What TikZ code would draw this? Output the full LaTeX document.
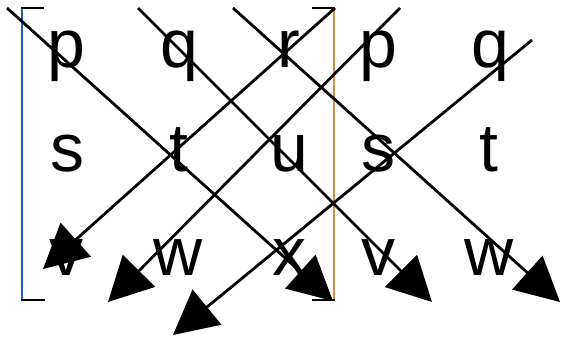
\documentclass[tikz,border=0pt]{standalone}
\usepackage{fontspec}
\setmainfont{Liberation Sans}
\usetikzlibrary{arrows.meta}
\definecolor{lbr}{rgb}{0.12,0.36,0.72}
\definecolor{rbr}{rgb}{0.82,0.56,0.26}
\tikzset{
  ent/.style={anchor=base, inner sep=0pt, font=\fontsize{68}{68}\selectfont},
  diag/.style={line width=2.8pt, draw=black, -{Triangle[length=44pt,width=45pt]}},
  serif/.style={line width=2.8pt, draw=black},
}
\begin{document}
\begin{tikzpicture}[x=1pt,y=-1pt]
\useasboundingbox (0,0) rectangle (561,338);
% entries
\node[ent] (a11) at (66.5,67) {p};
\node[ent] (a12) at (179,67) {q};
\node[ent] (a13) at (289,67) {r};
\node[ent] (a14) at (378,67) {p};
\node[ent] (a15) at (490,67) {q};
\node[ent] (a21) at (67,171) {s};
\node[ent] (a22) at (179,171) {t};
\node[ent] (a23) at (289,171) {u};
\node[ent] (a24) at (378,171) {s};
\node[ent] (a25) at (489,171) {t};
\node[ent] (a31) at (66.5,275) {v};
\node[ent] (a32) at (178,275) {w};
\node[ent] (a33) at (289,275) {x};
\node[ent] (a34) at (378,275) {v};
\node[ent] (a35) at (489,275) {w};
% brackets
\coordinate (lbt) at (22,8);
\coordinate (lbb) at (22,300);
\coordinate (lst) at (44,8);
\coordinate (lsb) at (45,300);
\coordinate (rbt) at (334,8);
\coordinate (rbb) at (334,300);
\coordinate (rst) at (312,8);
\coordinate (rsb) at (312,300);
\draw[line width=2.8pt, draw=lbr] (lbt) -- (lbb);
\draw[serif] ([xshift=-1.4pt]lbt) -- (lst);
\draw[serif] ([xshift=-1.4pt]lbb) -- (lsb);
\draw[line width=2.8pt, draw=rbr] (rbt) -- (rbb);
\draw[serif] ([xshift=1.4pt]rbt) -- (rst);
\draw[serif] ([xshift=1.4pt]rbb) -- (rsb);
% arrows
\coordinate (s1) at (7,8);     \coordinate (e1) at (333,301);
\coordinate (s2) at (138,8);   \coordinate (e2) at (432,302);
\coordinate (s3) at (233,8);   \coordinate (e3) at (560,302);
\coordinate (sA) at (335,8);   \coordinate (eA) at (43,269);
\coordinate (sB) at (400,8);   \coordinate (eB) at (108,302);
\coordinate (sC) at (532,40);  \coordinate (eC) at (173,335);
\draw[diag] (s1) -- (e1);
\draw[diag] (s2) -- (e2);
\draw[diag] (s3) -- (e3);
\draw[diag] (sA) -- (eA);
\draw[diag] (sB) -- (eB);
\draw[diag] (sC) -- (eC);
\end{tikzpicture}
\end{document}
